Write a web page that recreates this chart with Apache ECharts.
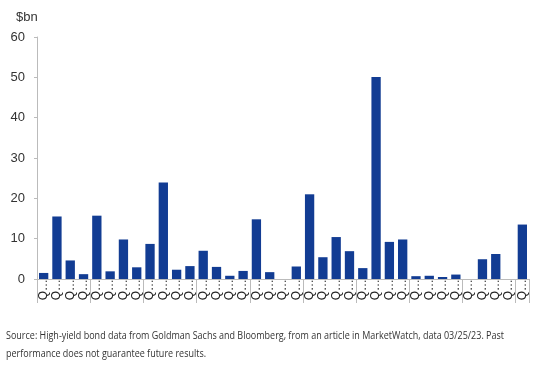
<!DOCTYPE html>
<html>
<head>
<meta charset="utf-8">
<script src="https://cdn.jsdelivr.net/npm/echarts@6/dist/echarts.min.js"></script>
<style>
  html, body { margin: 0; padding: 0; background: #fff; }
  #chart { width: 538px; height: 368px; }
</style>
</head>
<body>
<div id="chart"></div>
<script>
// quarters Q1 2014 .. Q1 2023
const quarters = []
for (let y = 2014; y <= 2023; y++) {
  for (let q = 1; q <= 4; q++) {
    if (y === 2023 && q > 1) break
    quarters.push('Q' + q + ' ' + y)
  }
}
const issuance = [
  1.5, 15.5, 4.6, 1.2, 15.7, 1.9, 9.8, 2.9, 8.7, 23.9,
  2.3, 3.2, 7.0, 3.0, 0.8, 2.0, 14.8, 1.7, 0, 3.1,
  21.0, 5.4, 10.4, 6.9, 2.7, 50.1, 9.2, 9.8, 0.7, 0.8,
  0.5, 1.1, 0, 4.9, 6.2, 0, 13.5,
]
const yTicks = [0, 10, 20, 30, 40, 50, 60]
const sourceText = [
  'Source: High-yield bond data from Goldman Sachs and Bloomberg, from an article in MarketWatch, data 03/25/23. Past',
  'performance does not guarantee future results.',
]

// the source note uses a condensed face: squeeze it to the same width
const srcFont = '11.5px "Open Sans", sans-serif'
const ctx = document.createElement('canvas').getContext('2d')
ctx.font = srcFont
const w = ctx.measureText(sourceText[0]).width
const srcScale = w > 0 ? Math.min(1, 498 / w) : 1

const chartDom = echarts.init(document.getElementById('chart'))
const option = {
  animation: false,
  grid: {
    left: 37,
    right: 9,
    top: 37,
    bottom: 89,
  },
  title: {
    text: '$bn',
    left: 11,
    top: 6,
    textStyle: {
      color: '#333',
      fontSize: 13,
      fontWeight: 'normal',
      fontFamily: 'Liberation Sans, Arial',
    },
  },
  xAxis: [
    {
      type: 'category',
      data: quarters,
      axisLine: { lineStyle: { color: '#bbb' } },
      axisTick: { interval: 0, length: 14, lineStyle: { color: '#bbb' } },
      axisLabel: {
        interval: 0,
        rotate: 90,
        margin: 0,
        fontSize: 12,
        color: '#222',
        fontFamily: 'Liberation Sans, Arial',
        formatter: (v) => v.charAt(0) + '…',
      },
    },
    {
      // year group separators
      type: 'value',
      position: 'bottom',
      min: 0,
      max: quarters.length,
      interval: 4,
      axisLine: { show: false },
      axisTick: { show: true, length: 24, lineStyle: { color: '#bbb' } },
      axisLabel: { show: false },
      splitLine: { show: false },
    },
  ],
  yAxis: {
    type: 'value',
    min: yTicks[0],
    max: yTicks[yTicks.length - 1],
    interval: 10,
    axisLine: { show: true, lineStyle: { color: '#bbb' } },
    axisTick: { show: true, length: 3, lineStyle: { color: '#bbb' } },
    splitLine: { show: false },
    axisLabel: {
      margin: 12,
      fontSize: 13,
      color: '#333',
      fontFamily: 'Liberation Sans, Arial',
    },
  },
  series: [
    {
      type: 'bar',
      data: issuance,
      barCategoryGap: '30%',
      itemStyle: { color: '#123c93' },
    },
  ],
  graphic: [
    {
      type: 'text',
      x: 6,
      y: 327,
      scaleX: srcScale,
      style: {
        text: sourceText.join('\n'),
        fill: '#333',
        font: srcFont,
        lineHeight: 18,
      },
    },
  ],
}
chartDom.setOption(option)
</script>
</body>
</html>
